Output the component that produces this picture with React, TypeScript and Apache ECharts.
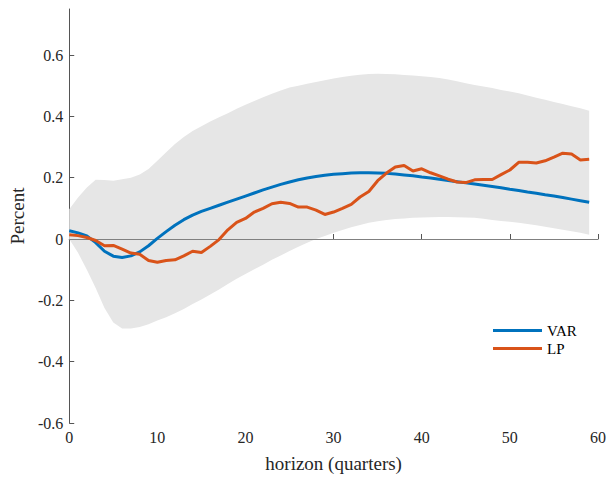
import { useEffect, useRef } from "react";
import * as echarts from "echarts";

const horizon = Array.from({ length: 60 }, (_, i) => i);

const varIrf = [
  0.027, 0.02, 0.01, -0.012, -0.04, -0.056, -0.06, -0.055, -0.042, -0.022,
  0.002, 0.024, 0.045, 0.063, 0.078, 0.09, 0.1, 0.11, 0.12, 0.13,
  0.14, 0.15, 0.16, 0.169, 0.178, 0.186, 0.193, 0.199, 0.204, 0.208,
  0.211, 0.213, 0.215, 0.216, 0.216, 0.215, 0.214, 0.212, 0.209, 0.206,
  0.202, 0.199, 0.195, 0.191, 0.187, 0.183, 0.179, 0.175, 0.171, 0.167,
  0.162, 0.158, 0.153, 0.149, 0.144, 0.14, 0.135, 0.13, 0.125, 0.12,
];

const lpIrf = [
  0.014, 0.011, 0.005, -0.005, -0.022, -0.021, -0.033, -0.046, -0.05, -0.07,
  -0.076, -0.07, -0.068, -0.055, -0.04, -0.044, -0.024, -0.002, 0.03, 0.054,
  0.067, 0.088, 0.1, 0.115, 0.12, 0.116, 0.104, 0.104, 0.094, 0.08,
  0.088, 0.1, 0.113, 0.137, 0.155, 0.19, 0.215, 0.235, 0.24, 0.222,
  0.229, 0.216, 0.206, 0.195, 0.186, 0.184, 0.193, 0.194, 0.194, 0.21,
  0.225, 0.25, 0.25, 0.248, 0.255, 0.267, 0.28, 0.277, 0.258, 0.26,
];

const bandUpper = [
  0.097, 0.135, 0.168, 0.193, 0.192, 0.19, 0.195, 0.2, 0.21, 0.228,
  0.255, 0.283, 0.31, 0.333, 0.352, 0.368, 0.383, 0.397, 0.41, 0.425,
  0.438, 0.45, 0.462, 0.474, 0.484, 0.494, 0.5, 0.506, 0.512, 0.518,
  0.523, 0.528, 0.532, 0.536, 0.538, 0.539, 0.538, 0.537, 0.535, 0.533,
  0.531, 0.528, 0.525, 0.52, 0.514, 0.508, 0.502, 0.497, 0.492, 0.486,
  0.481, 0.475, 0.468, 0.461, 0.454, 0.447, 0.44, 0.433, 0.426, 0.418,
];

const bandLower = [
  0.0, -0.045, -0.1, -0.16, -0.225, -0.272, -0.292, -0.292, -0.287, -0.278,
  -0.266, -0.255, -0.242, -0.228, -0.212, -0.197, -0.181, -0.165, -0.147, -0.13,
  -0.114, -0.099, -0.084, -0.068, -0.054, -0.039, -0.025, -0.012, 0.0, 0.01,
  0.02, 0.029, 0.038, 0.046, 0.053, 0.058, 0.062, 0.065, 0.067, 0.069,
  0.07, 0.071, 0.072, 0.072, 0.071, 0.07, 0.069, 0.066, 0.062, 0.059,
  0.056, 0.053, 0.049, 0.045, 0.04, 0.035, 0.03, 0.025, 0.02, 0.014,
];

const yTicks = [-0.6, -0.4, -0.2, 0, 0.2, 0.4, 0.6];
const xTicks = [0, 10, 20, 30, 40, 50, 60];

const FONT = "Liberation Serif";
const AXIS = "#555";
const TEXT = "#262626";

export default function App() {
  const ref = useRef<HTMLDivElement | null>(null);

  useEffect(() => {
    document.body.style.margin = "0";
    const chart = echarts.init(ref.current!, undefined, { renderer: "svg" });

    const pairs = (vals: number[]) => horizon.map((h, i) => [h, vals[i]]);

    // confidence band: one polygon, upper edge forward then lower edge back
    const renderBand = (params: any, api: any) => {
      if (params.dataIndex !== 0) return null;
      const n = horizon.length;
      const pts: number[][] = [];
      for (let j = 0; j < n; j++) pts.push(api.coord([api.value(0, j), api.value(2, j)]));
      for (let j = n - 1; j >= 0; j--) pts.push(api.coord([api.value(0, j), api.value(1, j)]));
      return {
        type: "polygon",
        shape: { points: pts },
        style: { fill: "#E6E6E6", stroke: "none" },
        silent: true,
      };
    };

    chart.setOption({
      animation: false,
      grid: { left: 68, right: 8, top: 9, bottom: 47 },
      legend: {
        data: [
          { name: "VAR", icon: "rect" },
          { name: "LP", icon: "rect" },
        ],
        orient: "vertical",
        left: 493,
        top: 323,
        padding: 0,
        itemWidth: 49,
        itemHeight: 3,
        itemGap: 3,
        textStyle: { fontFamily: FONT, fontSize: 15, color: "#000" },
      },
      xAxis: {
        type: "value",
        min: 0,
        max: 60,
        interval: 10,
        name: "horizon (quarters)",
        nameLocation: "middle",
        nameGap: 31,
        nameTextStyle: { fontFamily: FONT, fontSize: 19, color: TEXT },
        splitLine: { show: false },
        axisLine: { lineStyle: { color: AXIS, width: 1 } },
        axisTick: { inside: true, length: 5, customValues: xTicks, lineStyle: { color: AXIS } },
        axisLabel: {
          customValues: xTicks,
          margin: 6,
          fontFamily: FONT,
          fontSize: 16,
          color: TEXT,
        },
      },
      yAxis: {
        type: "value",
        min: -0.6,
        max: 0.75,
        name: "Percent",
        nameLocation: "middle",
        nameGap: 41,
        nameTextStyle: { fontFamily: FONT, fontSize: 19, color: TEXT },
        splitLine: { show: false },
        axisLine: { show: true, lineStyle: { color: AXIS, width: 1 } },
        axisTick: { show: true, inside: true, length: 5, customValues: yTicks, lineStyle: { color: AXIS } },
        axisLabel: {
          customValues: yTicks,
          margin: 6,
          fontFamily: FONT,
          fontSize: 16,
          color: TEXT,
          formatter: (v: number) => String(Math.round(v * 10) / 10),
        },
      },
      series: [
        {
          name: "band",
          type: "custom",
          data: horizon.map((h, i) => [h, bandLower[i], bandUpper[i]]),
          encode: { x: 0, y: [1, 2] },
          renderItem: renderBand,
          silent: true,
          z: 1,
        },
        {
          name: "zero",
          type: "line",
          data: [],
          silent: true,
          z: 2,
          markLine: {
            silent: true,
            symbol: "none",
            z: 2,
            label: { show: false },
            lineStyle: { color: "#808080", width: 1, type: "solid" },
            data: [{ yAxis: 0 }],
          },
        },
        {
          name: "VAR",
          type: "line",
          data: pairs(varIrf),
          symbol: "none",
          lineStyle: { color: "#0072BD", width: 3 },
          itemStyle: { color: "#0072BD" },
          z: 3,
        },
        {
          name: "LP",
          type: "line",
          data: pairs(lpIrf),
          symbol: "none",
          lineStyle: { color: "#D95319", width: 3 },
          itemStyle: { color: "#D95319" },
          z: 4,
        },
      ],
    });

    return () => chart.dispose();
  }, []);

  return <div ref={ref} style={{ width: 609, height: 478 }} />;
}
